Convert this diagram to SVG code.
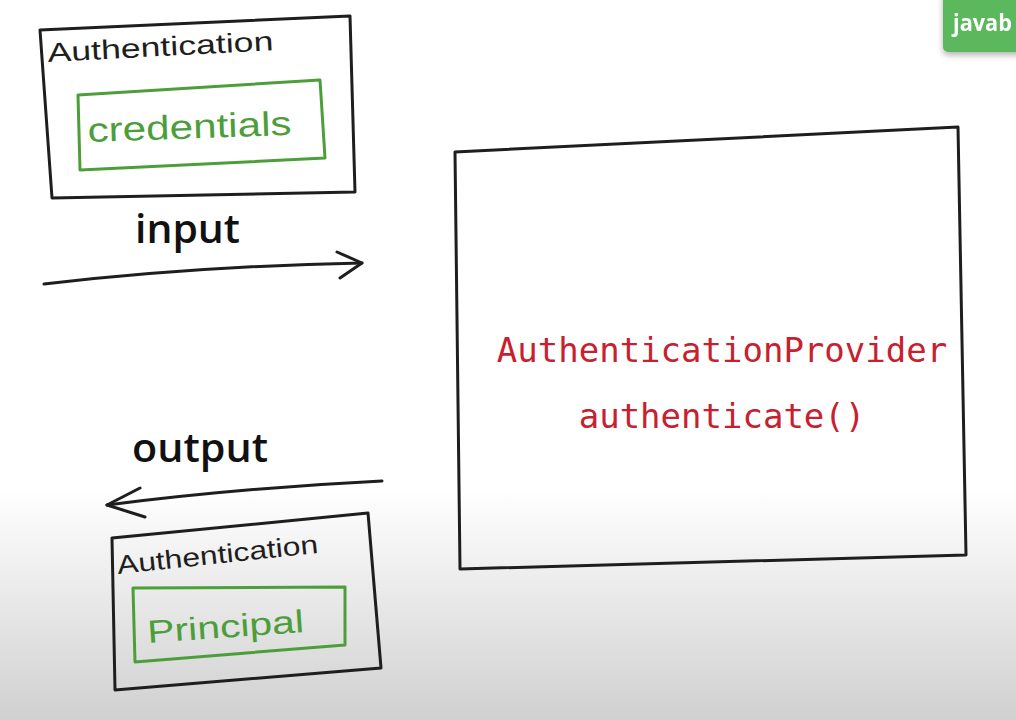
<svg xmlns="http://www.w3.org/2000/svg" width="1016" height="720" viewBox="0 0 1016 720">
<defs>
<linearGradient id="bg" x1="0" y1="0" x2="0" y2="1">
<stop offset="0" stop-color="#ffffff"/>
<stop offset="0.68" stop-color="#ffffff"/>
<stop offset="1" stop-color="#d0d0d0"/>
</linearGradient>
<filter id="sh" x="-20%" y="-20%" width="140%" height="160%"><feDropShadow dx="0" dy="3" stdDeviation="3" flood-color="#000" flood-opacity="0.3"/></filter>
<style>
.ink{fill:none;stroke:#1e1e1e;stroke-width:3;stroke-linejoin:round;stroke-linecap:round}
.gr{fill:none;stroke:#4c9e3a;stroke-width:3;stroke-linejoin:round}
.hand{font-family:"Liberation Sans",Arial,sans-serif;fill:#1e1e1e}
.ghand{font-family:"Liberation Sans",Arial,sans-serif;fill:#4c9e3a}
.lbl{font-family:"Open Sans","Liberation Sans",sans-serif;font-weight:600;fill:#111}
.code{font-family:"DejaVu Sans Mono","Liberation Mono",monospace;font-size:34px;fill:#c8202e}
</style>
</defs>
<rect width="1016" height="720" fill="url(#bg)"/>

<g id="badge" filter="url(#sh)">
<rect x="943" y="-8" width="90" height="60" rx="5" fill="#5cb85c"/>
<text x="953" y="31" font-family="Open Sans,Liberation Sans,sans-serif" font-weight="700" font-size="23" textLength="59" lengthAdjust="spacingAndGlyphs" fill="#ffffff">javab</text>
</g>

<g id="auth-in">
<path class="ink" d="M40 30 L350 16 L355 192 L52 198 Z"/>
<text class="hand" x="48" y="62" font-size="27" textLength="226" lengthAdjust="spacingAndGlyphs" transform="rotate(-3 48 62)">Authentication</text>
<g id="credentials">
<path class="gr" d="M78 95 L320 80 L325 158 L80 170 Z"/>
<text class="ghand" x="88" y="142" font-size="34" textLength="204" lengthAdjust="spacingAndGlyphs" transform="rotate(-2 88 142)">credentials</text>
</g>
</g>

<g id="provider">
<path class="ink" d="M455 152 L958 127 L966 555 L460 569 Z"/>
<text class="code" x="722" y="362" text-anchor="middle">AuthenticationProvider</text>
<text class="code" x="722" y="428" text-anchor="middle">authenticate()</text>
</g>

<g id="auth-out">
<path class="ink" d="M112 538 L368 513 L381 668 L115 690 Z"/>
<text class="hand" x="118" y="574" font-size="26" textLength="202" lengthAdjust="spacingAndGlyphs" transform="rotate(-6 118 574)">Authentication</text>
<g id="principal">
<path class="gr" d="M133 588 L345 587 L345 645 L135 662 Z"/>
<text class="ghand" x="148" y="643" font-size="32" textLength="157" lengthAdjust="spacingAndGlyphs" transform="rotate(-4 148 643)">Principal</text>
</g>
</g>

<g id="connectors">
<text class="lbl" x="135" y="243" font-size="39" textLength="105" lengthAdjust="spacingAndGlyphs">input</text>
<path class="ink" d="M44 284 Q200 266 362 263"/>
<path class="ink" d="M337 252 L362 263 L340 278"/>
<text class="lbl" x="132" y="462" font-size="39" textLength="136" lengthAdjust="spacingAndGlyphs">output</text>
<path class="ink" d="M382 481 Q240 488 107 505"/>
<path class="ink" d="M140 488 L107 505 L145 517"/>
</g>
</svg>
